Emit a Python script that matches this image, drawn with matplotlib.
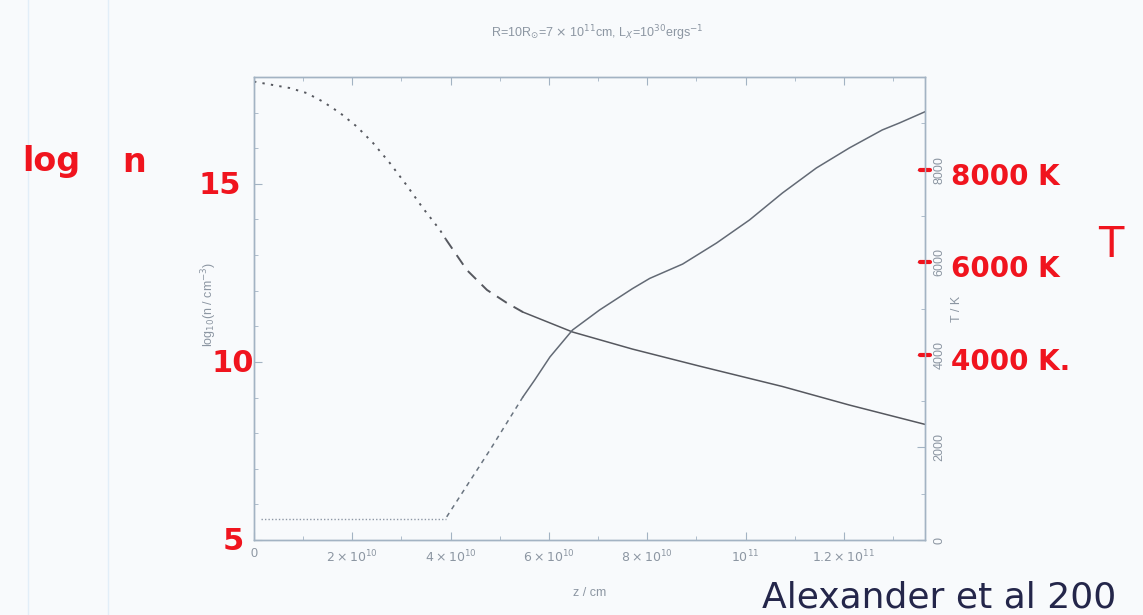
import matplotlib
matplotlib.use('Agg')
import matplotlib.pyplot as plt
from matplotlib.ticker import MultipleLocator, FixedLocator, FixedFormatter, NullFormatter

# ---------------- data ----------------
# density profile, log10(n / cm^-3) versus z (cm)
z_n_dotted = [0.0, 0.73e10, 1.07e10, 1.40e10, 1.75e10, 2.09e10, 2.42e10, 2.76e10,
              3.10e10, 3.43e10, 3.78e10, 3.90e10]
n_dotted = [17.87, 17.69, 17.55, 17.31, 16.99, 16.61, 16.15, 15.59,
            14.97, 14.33, 13.71, 13.45]
z_n_dashed = [3.90e10, 4.33e10, 4.74e10, 5.14e10, 5.47e10]
n_dashed = [13.45, 12.58, 12.02, 11.66, 11.40]
z_n_solid = [5.47e10, 6.48e10, 7.70e10, 9.07e10, 10.75e10, 12.11e10, 13.64e10]
n_solid = [11.40, 10.84, 10.36, 9.88, 9.31, 8.79, 8.25]

# temperature profile, T (K) versus z (cm)
z_T_dotted = [0.15e10, 3.90e10]
T_dotted = [450, 450]
z_T_dashed = [3.92e10, 4.80e10, 5.47e10]
T_dashed = [500, 1944, 3089]
z_T_solid = [5.47e10, 5.71e10, 6.02e10, 6.48e10, 7.03e10, 7.70e10, 8.05e10, 8.72e10,
             9.41e10, 10.08e10, 10.75e10, 11.44e10, 12.11e10, 12.78e10, 13.13e10, 13.64e10]
T_solid = [3089, 3456, 3953, 4536, 4968, 5430, 5650, 5960, 6415, 6912, 7495, 8035,
           8467, 8856, 9007, 9245]

x_ticks = [0, 2e10, 4e10, 6e10, 8e10, 1e11, 1.2e11]
x_ticklabels = ['0', r'$2\times10^{10}$', r'$4\times10^{10}$', r'$6\times10^{10}$',
                r'$8\times10^{10}$', r'$10^{11}$', r'$1.2\times10^{11}$']
n_ticks = [5, 10, 15]
T_ticks = [0, 2000, 4000, 6000, 8000]

title = r'R=10R$_{\odot}$=7 $\times$ 10$^{11}$cm, L$_X$=10$^{30}$ergs$^{-1}$'

# handwritten notes on the scan
note_n_labels = ['15', '10', '5']
note_n_values = [15, 10, 5]
note_T_labels = ['8000 K', '6000 K', '4000 K.']
note_T_values = [8000, 6000, 4000]
note_author = 'Alexander et al 200'

# ---------------- style ----------------
W, H = 1143, 615
BG = '#f8fafc'
SPINE = '#a3b3c3'
GREY = '#8c96a2'
LINE = '#56585f'
RED = '#f0141e'
INK = '#24264a'

plt.rcParams['font.family'] = ['Liberation Sans', 'DejaVu Sans']
plt.rcParams['mathtext.fontset'] = 'dejavusans'

fig = plt.figure(figsize=(W / 100, H / 100), dpi=100, facecolor=BG)
ax = fig.add_axes([254 / W, 1 - 540 / H, (925 - 254) / W, (540 - 77) / H])
ax.set_facecolor(BG)
ax2 = ax.twinx()

lw = 1.1
ax.plot(z_n_dotted, n_dotted, color=LINE, lw=lw + 0.3, linestyle=(0, (1.2, 3.2)))
ax.plot(z_n_dashed, n_dashed, color=LINE, lw=lw + 0.3, linestyle=(0, (6, 4)))
ax.plot(z_n_solid, n_solid, color=LINE, lw=lw)
ax2.plot(z_T_dotted, T_dotted, color='#8d97a5', lw=1.0, linestyle=(0, (1, 1.5)))
ax2.plot(z_T_dashed, T_dashed, color='#6a7480', lw=lw, linestyle=(0, (3, 3)))
ax2.plot(z_T_solid, T_solid, color='#636a75', lw=lw)

ax.set_xlim(0, 1.365e11)
ax.set_ylim(5, 18)
ax2.set_ylim(0, 10000)

for a in (ax, ax2):
    for s in a.spines.values():
        s.set_color(SPINE)
        s.set_linewidth(1.0)

ax.xaxis.set_major_locator(FixedLocator(x_ticks))
ax.xaxis.set_major_formatter(FixedFormatter(x_ticklabels))
ax.xaxis.set_minor_locator(MultipleLocator(1e10))
ax.yaxis.set_major_locator(FixedLocator(n_ticks))
ax.yaxis.set_major_formatter(NullFormatter())
ax.yaxis.set_minor_locator(MultipleLocator(1))
ax2.yaxis.set_major_locator(FixedLocator(T_ticks))
ax2.yaxis.set_minor_locator(MultipleLocator(1000))

ax.tick_params(axis='x', which='both', direction='in', top=True, colors=SPINE,
               labelcolor=GREY, labelsize=9, pad=6)
ax.tick_params(axis='x', which='major', length=6)
ax.tick_params(axis='x', which='minor', length=3)
ax.tick_params(axis='y', which='both', direction='in', colors=SPINE)
ax.tick_params(axis='y', which='major', length=6)
ax.tick_params(axis='y', which='minor', length=3)
ax2.tick_params(axis='y', which='both', direction='in', colors=SPINE,
                labelcolor=GREY, labelsize=9, pad=6)
ax2.tick_params(axis='y', which='major', length=6)
ax2.tick_params(axis='y', which='minor', length=3)
for lab in ax2.get_yticklabels():
    lab.set_rotation(90)
    lab.set_va('center')

ax.set_xlabel('z / cm', color=GREY, fontsize=9, labelpad=16)
ax.set_ylabel(r'log$_{10}$(n / cm$^{-3}$)', color=GREY, fontsize=9)
ax.yaxis.set_label_coords(-0.052, 0.51)
ax2.set_ylabel('T / K', color=GREY, fontsize=9, labelpad=4)
fig.text(597 / W, 1 - 33 / H, title, color=GREY, fontsize=9, ha='center', va='center')

# faint paper margin lines
fig.add_artist(plt.Line2D([28 / W, 28 / W], [0, 1], color='#e2eef8', lw=1.0))
fig.add_artist(plt.Line2D([108 / W, 108 / W], [0, 1], color='#e2eef8', lw=1.0))

# handwritten annotations
hand = dict(color=RED, fontweight='bold', family=['DejaVu Sans'])
def ftxt(x, y, s, size, **kw):
    opts = dict(hand)
    opts.update(kw)
    fig.text(x / W, 1 - y / H, s, fontsize=size, va='center', **opts)

ftxt(22, 162, 'log', 24)
ftxt(122, 162, 'n', 24)

# red numbers beside the left axis, placed at their log n values
n_note_dx = [-9, 0, -7]
for lab, v, dx in zip(note_n_labels, note_n_values, n_note_dx):
    ax.annotate(lab, xy=(0, v), xycoords=('axes fraction', 'data'),
                xytext=(dx, -1), textcoords='offset points', ha='right',
                va='center', fontsize=22, color=RED, fontweight='bold',
                family=['DejaVu Sans'], annotation_clip=False)

# red dashes and labels beside the right axis, placed at their T values
for lab, v in zip(note_T_labels, note_T_values):
    ax2.plot([0.992, 1.008], [v, v], transform=ax2.get_yaxis_transform(),
             color=RED, lw=3, solid_capstyle='round', clip_on=False)
    ax2.annotate(lab, xy=(1, v), xycoords=('axes fraction', 'data'),
                 xytext=(19, -5), textcoords='offset points', ha='left',
                 va='center', fontsize=20, color=RED, fontweight='bold',
                 family=['DejaVu Sans'], annotation_clip=False)

ftxt(1098, 245, 'T', 30, fontweight='normal')
fig.text(762 / W, 1 - 598 / H, note_author, fontsize=26, color=INK,
         va='center', family=['DejaVu Sans'])

fig.savefig('out.png', dpi=100, facecolor=BG)
